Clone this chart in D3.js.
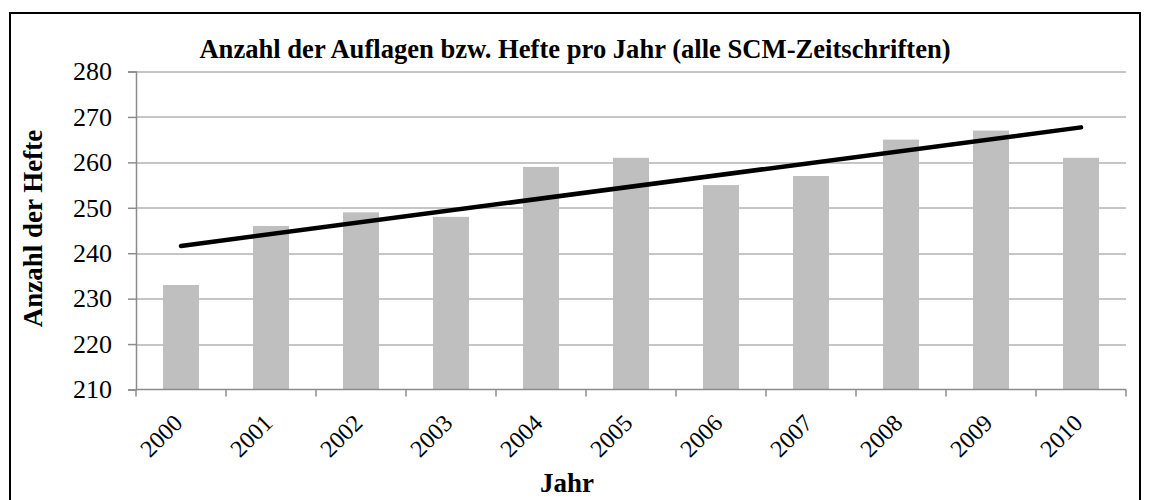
<!DOCTYPE html>
<html>
<head>
<meta charset="utf-8">
<script src="https://cdn.jsdelivr.net/npm/d3@7"></script>
<style>
  body { margin: 0; background: #fff; }
</style>
</head>
<body>
<div id="chart"></div>
<script>
// values
var years = ['2000','2001','2002','2003','2004','2005','2006','2007','2008','2009','2010'];
var hefte = [233, 246, 249, 248, 259, 261, 255, 257, 265, 267, 261];
var trendYears = ['2000', '2010'];
var trendValues = [241.6, 267.7];
var yTicks = [210, 220, 230, 240, 250, 260, 270, 280];

var FONT = '"Liberation Serif", "Times New Roman", serif';
var W = 1149, H = 500;
var margin = {left: 136, right: 23, top: 71.5, bottom: 110.5};
var width = W - margin.left - margin.right;
var height = H - margin.top - margin.bottom;

var svg = d3.select('#chart')
    .append('svg')
    .attr('width', W)
    .attr('height', H);

// outer frame
svg.append('rect')
    .attr('x', 10).attr('y', 13)
    .attr('width', 1130).attr('height', 500)
    .attr('fill', 'none')
    .attr('stroke', '#000')
    .attr('stroke-width', 2);

var g = svg.append('g')
    .attr('transform', 'translate(' + margin.left + ',' + margin.top + ')');

var x = d3.scaleBand().domain(years).range([0, width]).padding(0);
var y = d3.scaleLinear().domain([210, 280]).range([height, 0]);

// gridlines
g.selectAll('.grid')
    .data(yTicks.slice(1))
    .enter().append('line')
    .attr('x1', 0).attr('x2', width)
    .attr('y1', d => Math.round(y(d)) + 0.5)
    .attr('y2', d => Math.round(y(d)) + 0.5)
    .attr('stroke', '#8c8c8c')
    .attr('stroke-width', 1);

// bars
var barW = x.bandwidth() * 0.4;
g.selectAll('.bar')
    .data(hefte)
    .enter().append('rect')
    .attr('x', (d, i) => x(years[i]) + (x.bandwidth() - barW) / 2)
    .attr('y', d => y(d))
    .attr('width', barW)
    .attr('height', d => height - y(d))
    .attr('fill', '#bfbfbf');

// y axis
var yAxis = g.append('g')
    .call(d3.axisLeft(y).tickValues(yTicks).tickSize(8).tickPadding(16).tickFormat(d3.format('d')));
yAxis.select('.domain').attr('stroke', '#8c8c8c').attr('stroke-width', 1.5);
yAxis.selectAll('.tick line').attr('stroke', '#8c8c8c').attr('stroke-width', 1.5);
yAxis.selectAll('.tick text')
    .attr('fill', '#000')
    .style('font-family', FONT)
    .style('font-size', '26px');

// x axis: ticks at band boundaries
var xAxisG = g.append('g').attr('transform', 'translate(0,' + height + ')');
xAxisG.append('line')
    .attr('x1', 0).attr('x2', width)
    .attr('y1', 0).attr('y2', 0)
    .attr('stroke', '#8c8c8c').attr('stroke-width', 1.5);
var bounds = years.map(d => x(d)).concat([width]);
xAxisG.selectAll('.xt')
    .data(bounds)
    .enter().append('line')
    .attr('x1', d => d).attr('x2', d => d)
    .attr('y1', 0).attr('y2', 7)
    .attr('stroke', '#8c8c8c').attr('stroke-width', 1.5);
xAxisG.selectAll('.xl')
    .data(years)
    .enter().append('text')
    .attr('transform', d => 'translate(' + (x(d) + x.bandwidth() / 2 + 3) + ',35) rotate(-45)')
    .attr('text-anchor', 'end')
    .attr('fill', '#000')
    .style('font-family', FONT)
    .style('font-size', '24px')
    .text(d => d);

// linear trend
g.append('line')
    .attr('x1', x(trendYears[0]) + x.bandwidth() / 2)
    .attr('x2', x(trendYears[1]) + x.bandwidth() / 2)
    .attr('y1', y(trendValues[0]))
    .attr('y2', y(trendValues[1]))
    .attr('stroke', '#000')
    .attr('stroke-width', 4.5)
    .attr('stroke-linecap', 'round');

// title and axis labels
svg.append('text')
    .attr('x', 575).attr('y', 58)
    .attr('text-anchor', 'middle')
    .style('font-family', FONT)
    .style('font-size', '26.6px').style('font-weight', 'bold')
    .text('Anzahl der Auflagen bzw. Hefte pro Jahr (alle SCM-Zeitschriften)');

svg.append('text')
    .attr('transform', 'translate(42,228.5) rotate(-90)')
    .attr('text-anchor', 'middle')
    .style('font-family', FONT)
    .style('font-size', '27px').style('font-weight', 'bold')
    .text('Anzahl der Hefte');

svg.append('text')
    .attr('x', 567).attr('y', 492)
    .attr('text-anchor', 'middle')
    .style('font-family', FONT)
    .style('font-size', '27px').style('font-weight', 'bold')
    .text('Jahr');
</script>
</body>
</html>
